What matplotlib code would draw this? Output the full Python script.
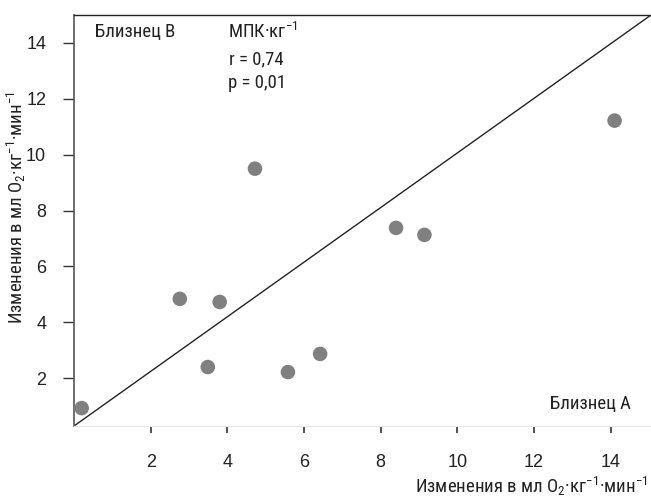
import matplotlib
matplotlib.use("Agg")
import matplotlib.pyplot as plt
from matplotlib import font_manager as fm

x_vals = [0.2, 2.76, 3.49, 3.8, 4.72, 5.58, 6.42, 8.4, 9.14, 14.1]
y_vals = [0.93, 4.84, 2.4, 4.73, 9.5, 2.22, 2.87, 7.38, 7.13, 11.22]
x_ticks = [2, 4, 6, 8, 10, 12, 14]
y_ticks = [2, 4, 6, 8, 10, 12, 14]

available = {f.name for f in fm.fontManager.ttflist}
narrow_name = 'DejaVu Sans'
for c in ['Liberation Sans Narrow', 'Roboto Condensed', 'Open Sans Condensed', 'Arial Narrow']:
    if c in available:
        narrow_name = c
        break

plt.rcParams['font.family'] = ['Liberation Sans', 'DejaVu Sans']
plt.rcParams['mathtext.fontset'] = 'custom'
plt.rcParams['mathtext.rm'] = narrow_name
plt.rcParams['mathtext.it'] = narrow_name
plt.rcParams['mathtext.default'] = 'regular'
narrow = [narrow_name, 'DejaVu Sans']

fig = plt.figure(figsize=(6.51, 4.98), dpi=100)
ax = fig.add_axes([74/651, 72/498, 1 - 74/651, (426-15)/498])
ax.set_xlim(0, 15.05)
ax.set_ylim(0.29, 15.0)

ax.scatter(x_vals, y_vals, s=110, color='#808080', edgecolors='none', zorder=3, clip_on=False)
ax.plot([0, 1], [0, 1], transform=ax.transAxes, color='#222222', lw=1.0)

ax.spines['right'].set_visible(False)
ax.spines['left'].set_color('#555555')
ax.spines['top'].set_color('#222222')
ax.spines['bottom'].set_color('#e6e6e6')
ax.spines['left'].set_linewidth(1.2)
ax.spines['top'].set_linewidth(1.0)

ax.set_xticks(x_ticks)
ax.set_yticks(y_ticks)
ax.tick_params(axis='x', length=5, width=1.2, color='#333333', pad=15, labelsize=13, labelcolor='#222222')
ax.tick_params(axis='y', length=8, width=1.0, color='#333333', pad=12, labelsize=13, labelcolor='#222222')

kw = dict(fontsize=13.5, family=narrow, color='#222222')
fig.text(95/651, 1 - 32/498, 'Близнец B', va='center', ha='left', **kw)
fig.text(228/651, 1 - 32/498, r'МПК·кг$^{-1}$', va='center', ha='left', **kw)
fig.text(229/651, 1 - 59/498, 'r = 0,74', va='center', ha='left', **kw)
fig.text(228/651, 1 - 83/498, 'p = 0,01', va='center', ha='left', **kw)
fig.text(631/651, 1 - 404/498, 'Близнец A', va='center', ha='right', **kw)

fig.text(648/651, 1 - 486/498, r'Изменения в мл O$_2$·кг$^{-1}$·мин$^{-1}$', va='center', ha='right', **kw)
fig.text(16/651, 1 - 208/498, r'Изменения в мл O$_2$·кг$^{-1}$·мин$^{-1}$', va='center', ha='center',
         rotation=90, **kw)

fig.savefig('out.png', dpi=100)
